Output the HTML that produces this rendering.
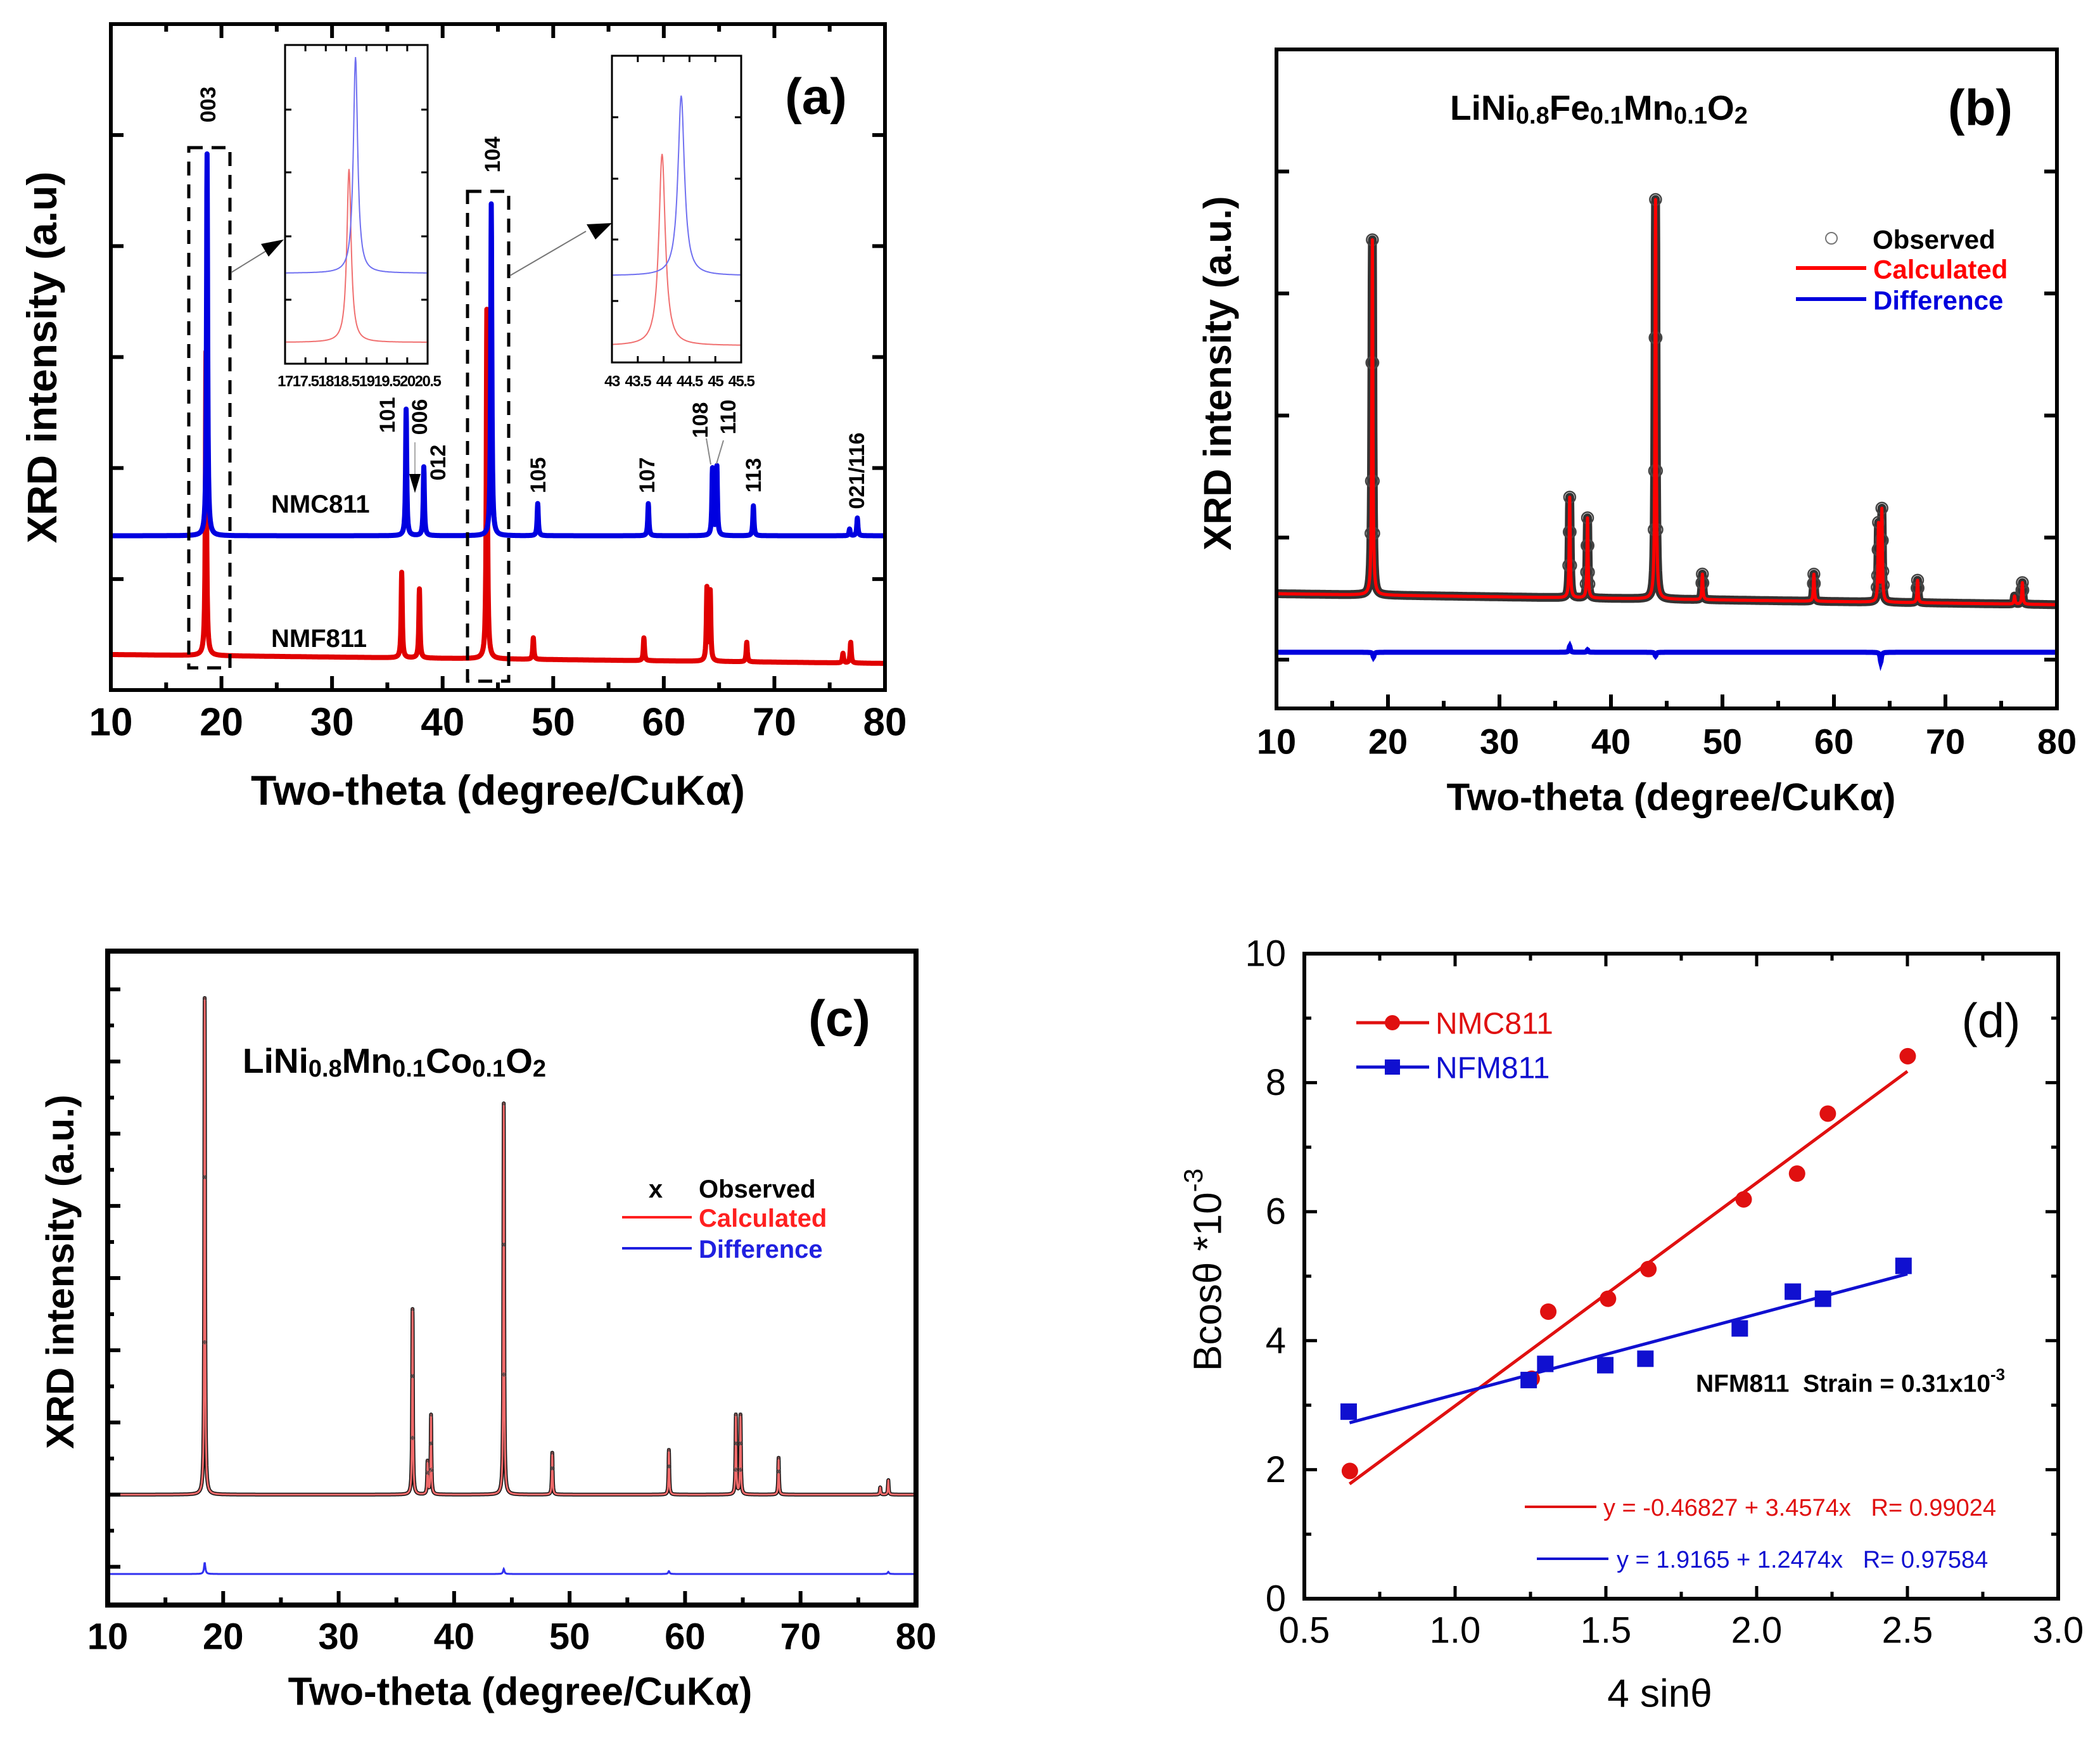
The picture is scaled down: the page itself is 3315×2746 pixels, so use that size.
<!DOCTYPE html>
<html><head><meta charset="utf-8"><style>
html,body{margin:0;padding:0;background:#fff;}
svg{display:block;font-family:"Liberation Sans",Arial,sans-serif;}
</style></head><body>
<svg id="fig" width="3315" height="2746" viewBox="0 0 3315 2746" xmlns="http://www.w3.org/2000/svg">
<rect width="3315" height="2746" fill="#fff"/>
<g id="pa"></g>
<g id="pb"></g>
<g id="pc"></g>
<g id="pd"></g>
</svg>
<script>
// ---------- Panel (a) data ----------
const aBlueBase = [1.39, 1.39];
const aBluePeaks = [18.7,36.7,38.3,44.4,48.6,58.6,64.4,64.8,68.1,76.8,77.5];
const aBlueTops  = [4.83,2.53,2.01,4.38,1.68,1.68,1.99,2.01,1.66,1.45,1.55];
const aRedBase = [0.32, 0.24];
const aRedPeaks = [18.6,36.3,37.9,44.0,48.2,58.2,63.9,64.2,67.5,76.2,76.9];
const aRedTops  = [3.05,1.06,0.91,3.43,0.47,0.47,0.91,0.88,0.43,0.33,0.43];
const xTicks = [10,20,30,40,50,60,70,80];
const in1Blue = {pos:18.73, base:0.284, top:0.962};
const in1Red  = {pos:18.57, base:0.067, top:0.611};
const in2Blue = {pos:44.34, base:0.283, top:0.870};
const in2Red  = {pos:43.97, base:0.055, top:0.680};
const in1Ticks = ["17","17.5","18","18.5","19","19.5","20","20.5"];
const in2Ticks = ["43","43.5","44","44.5","45","45.5"];
// ---------- Panel (b) data ----------
const bBase = [0.54, 0.45];
const bPeaks = [18.6,36.3,37.9,44.0,48.2,58.2,64.0,64.3,67.5,76.2,76.9];
const bTops  = [3.44,1.33,1.16,3.77,0.70,0.70,1.10,1.22,0.65,0.52,0.63];
const bDiffBase = 0.06;
const bDiffPos = [18.7,36.3,37.9,44.0,64.2];
const bDiffDev = [-0.04,0.05,0.02,-0.03,-0.08];
// ---------- Panel (c) data ----------
const cBase = [1.0, 1.0];
const cPeaks = [18.4,36.4,37.7,38.0,44.3,48.5,58.6,64.4,64.8,68.1,76.9,77.6];
const cTops  = [7.88,3.57,1.45,2.10,6.42,1.58,1.62,2.10,2.10,1.51,1.10,1.20];
const cDiffBase = -0.1;
const cDiffPos = [18.4,44.3,58.6,77.6];
const cDiffDev = [0.16,0.07,0.04,0.03];
// ---------- Panel (d) data ----------
const dNmcX = [0.651,1.254,1.309,1.507,1.641,1.957,2.134,2.236,2.501];
const dNmcY = [1.98,3.41,4.45,4.65,5.11,6.19,6.59,7.52,8.41];
const dNfmX = [0.647,1.244,1.299,1.498,1.631,1.944,2.120,2.220,2.487];
const dNfmY = [2.90,3.39,3.64,3.62,3.72,4.19,4.76,4.65,5.16];
const dNmcFit = [-0.46827, 3.4574];
const dNfmFit = [1.9165, 1.2474];
const dFitRange = [0.65, 2.50];
const dXTicks = [0.5,1.0,1.5,2.0,2.5,3.0];
const dYTicks = [0,2,4,6,8,10];

const NS="http://www.w3.org/2000/svg";
function el(parent, tag, attrs, text){
  const e=document.createElementNS(NS,tag);
  for(const k in attrs) e.setAttribute(k,attrs[k]);
  if(text!==undefined) e.textContent=text;
  parent.appendChild(e); return e;
}
function lin(d0,d1,r0,r1){return v=>r0+(v-d0)/(d1-d0)*(r1-r0);}
function profile(x, base, peaks, tops, w){
  const b = base[0] + (base[1]-base[0])*(x-10)/70;
  let y=b;
  for(let i=0;i<peaks.length;i++){
    const h=tops[i]-b; const t=(x-peaks[i])/w;
    y+=h/(1+t*t*4);
  }
  return y;
}
function pathFrom(fn, sx, sy, x0, x1, step){
  let d="";
  for(let x=x0;x<=x1+1e-9;x+=step){ d+=(d?"L":"M")+sx(x).toFixed(1)+" "+sy(fn(x)).toFixed(1); }
  return d;
}
function frame(g, L,T,R,B, sw){
  const r=el(g,"rect",{x:L,y:T,width:R-L,height:B-T,fill:"none",stroke:"#000","stroke-width":sw});
  
  
}
function xAxisTicks(g, sx, ticks, minorStep, B, T, fs, bold, labelY, top){
  ticks.forEach((v,i)=>{
    el(g,"line",{x1:sx(v),x2:sx(v),y1:B,y2:B-22,stroke:"#000","stroke-width":6});
    if(top) el(g,"line",{x1:sx(v),x2:sx(v),y1:T,y2:T+22,stroke:"#000","stroke-width":6});
    const t=el(g,"text",{x:sx(v),y:labelY,"font-size":fs,"font-weight":bold?"bold":"normal","text-anchor":"middle","dominant-baseline":"central"},String(v));
    
    
    if(i<ticks.length-1){
      const m=v+minorStep;
      el(g,"line",{x1:sx(m),x2:sx(m),y1:B,y2:B-12,stroke:"#000","stroke-width":6});
      if(top) el(g,"line",{x1:sx(m),x2:sx(m),y1:T,y2:T+12,stroke:"#000","stroke-width":6});
    }
  });
}
function yTicks(g, sy, vals, L, R, len, right){
  vals.forEach(v=>{
    el(g,"line",{x1:L,x2:L+len,y1:sy(v),y2:sy(v),stroke:"#000","stroke-width":6});
    if(right) el(g,"line",{x1:R,x2:R-len,y1:sy(v),y2:sy(v),stroke:"#000","stroke-width":6});
  });
}
function txt(g,name,x,y,s,attrs){
  const a=Object.assign({x:x,y:y,"dominant-baseline":"central"},attrs);
  const t=el(g,"text",a,s);
  
  
  return t;
}

// =============== PANEL A ===============
(function(){
  const g=document.getElementById("pa");
  const L=175,R=1397,T=38,B=1089;
  const sx=lin(10,80,L,R), sy=lin(0,6,B,T);
  const red=el(g,"path",{d:pathFrom(x=>profile(x,aRedBase,aRedPeaks,aRedTops,0.12),sx,sy,10,80,0.02),fill:"none",stroke:"#e00000","stroke-width":8,"stroke-linejoin":"round"});
  
  
  const blue=el(g,"path",{d:pathFrom(x=>profile(x,aBlueBase,aBluePeaks,aBlueTops,0.12),sx,sy,10,80,0.02),fill:"none",stroke:"#0000e0","stroke-width":8,"stroke-linejoin":"round"});
  
  
  const b1=el(g,"rect",{x:298,y:233,width:65,height:821,fill:"none",stroke:"#000","stroke-width":5,"stroke-dasharray":"22 14"});
  
  
  const b2=el(g,"rect",{x:738,y:302,width:65,height:773,fill:"none",stroke:"#000","stroke-width":5,"stroke-dasharray":"22 14"});
  
  
  el(g,"line",{x1:365,x2:425,y1:430,y2:393,stroke:"#777","stroke-width":2});
  el(g,"polygon",{points:"448,378 412,385 424,405",fill:"#000"});
  el(g,"line",{x1:805,x2:925,y1:435,y2:365,stroke:"#777","stroke-width":2});
  el(g,"polygon",{points:"966,352 926,354 940,378",fill:"#000"});
  function inset(L2,R2,T2,B2,x0,x1,labels,bl,rd,w,sideT,name){
    const gi=el(g,"g",{});
    
    
    el(gi,"rect",{x:L2,y:T2,width:R2-L2,height:B2-T2,fill:"#fff",stroke:"#000","stroke-width":3});
    const ix=lin(x0,x1,L2,R2), iy=lin(0,1,B2,T2);
    labels.forEach((s,i)=>{
      const v=parseFloat(s); const X=ix(v);
      if(i>0&&i<labels.length-1){
        el(gi,"line",{x1:X,x2:X,y1:B2,y2:B2-10,stroke:"#000","stroke-width":3});
        el(gi,"line",{x1:X,x2:X,y1:T2,y2:T2+10,stroke:"#000","stroke-width":3});
      }
      txt(gi,"inset-tick-label",X,602,s,{"font-size":24,"font-weight":"bold","text-anchor":"middle","letter-spacing":"-1.5"});
    });
    sideT.forEach(y=>{
      el(gi,"line",{x1:L2,x2:L2+10,y1:y,y2:y,stroke:"#000","stroke-width":3});
      el(gi,"line",{x1:R2,x2:R2-10,y1:y,y2:y,stroke:"#000","stroke-width":3});
    });
    [[rd,"#f07070"],[bl,"#7070f0"]].forEach(([p,c])=>{
      const fn=x=>{const t=(x-p.pos)/w;return p.base+(p.top-p.base)/(1+t*t*3);};
      el(gi,"path",{d:pathFrom(fn,ix,iy,x0+0.02,x1-0.02,0.01),fill:"none",stroke:c,"stroke-width":2});
    });
  }
  inset(450,675,71,574,17,20.5,in1Ticks,in1Blue,in1Red,0.11,[173,272,373,473],"inset-003");
  inset(966,1170,88,572,43,45.5,in2Ticks,in2Blue,in2Red,0.13,[185,282,378,475],"inset-104");
  frame(g,L,T,R,B,6);
  xAxisTicks(g,sx,xTicks,5,B,T,62,true,1140,true);
  yTicks(g,sy,[1,2,3,4,5],L,R,20,true);
  const labs=[["003",329,165],["104",778,244],["101",612,655],["006",663,658],["012",692,730],["105",850,750],["107",1022,750],["108",1106,663],["110",1150,658],["113",1190,750],["021/116",1353,743]];
  labs.forEach(l=>txt(g,"peak-label-"+l[0],l[1],l[2],l[0],{"font-size":34,"font-weight":"bold","text-anchor":"middle",transform:"rotate(-90 "+l[1]+" "+l[2]+")"}));
  el(g,"line",{x1:1115,y1:692,x2:1122,y2:733,stroke:"#888","stroke-width":2});
  el(g,"line",{x1:1142,y1:695,x2:1131,y2:732,stroke:"#888","stroke-width":2});
  el(g,"line",{x1:655,y1:698,x2:655,y2:760,stroke:"#aaa","stroke-width":2});
  el(g,"polygon",{points:"646,748 664,748 655,778",fill:"#000"});
  txt(g,"nmc811-label",428,796,"NMC811",{"font-size":40,"font-weight":"bold"});
  txt(g,"nmf811-label",428,1008,"NMF811",{"font-size":40,"font-weight":"bold"});
  txt(g,"panel-label-a",1288,152,"(a)",{"font-size":80,"font-weight":"bold","text-anchor":"middle"});
  txt(g,"x-axis-title",786,1247,"Two-theta (degree/CuKα)",{"font-size":66,"font-weight":"bold","text-anchor":"middle"});
  txt(g,"y-axis-title",66,564,"XRD intensity (a.u)",{"font-size":66,"font-weight":"bold","text-anchor":"middle",transform:"rotate(-90 66 564)"});
})();

// =============== PANEL B ===============
(function(){
  const g=document.getElementById("pb");
  const L=2015,R=3247,T=78,B=1118;
  const sx=lin(10,80,L,R), sy=lin(-0.4,5.0,B,T);
  const calc=x=>profile(x,bBase,bPeaks,bTops,0.11);
  const obs=el(g,"path",{d:pathFrom(calc,sx,sy,10,80,0.02),fill:"none",stroke:"#333","stroke-width":14,"stroke-linejoin":"round"});
  
  
  for(let i=0;i<bPeaks.length;i++){
    const p=bPeaks[i];
    for(let k=-3;k<=3;k++){
      const x=p+k*0.04; const y=calc(x);
      if(y-calc(p+1.5)>0.08){
        const c=el(g,"circle",{cx:sx(x),cy:sy(y),r:9,fill:"none",stroke:"#444","stroke-width":2.5});
        
        
      }
    }
  }
  const cl=el(g,"path",{d:pathFrom(calc,sx,sy,10,80,0.02),fill:"none",stroke:"#ff0000","stroke-width":5,"stroke-linejoin":"round"});
  
  
  const diff=x=>{let y=bDiffBase;for(let i=0;i<bDiffPos.length;i++){const t=(x-bDiffPos[i])/0.12;y+=bDiffDev[i]/(1+t*t*3);}return y;};
  const dl=el(g,"path",{d:pathFrom(diff,sx,sy,10,80,0.02),fill:"none",stroke:"#0000dd","stroke-width":8});
  
  
  frame(g,L,T,R,B,6);
  xAxisTicks(g,sx,xTicks,5,B,T,56,true,1170,false);
  yTicks(g,sy,[0,1,2,3,4],L,R,20,true);
  const f=txt(g,"formula-b",2289,170,"",{"font-size":55,"font-weight":"bold"});
  f.innerHTML='LiNi<tspan font-size="38" dy="13">0.8</tspan><tspan dy="-13">Fe</tspan><tspan font-size="38" dy="13">0.1</tspan><tspan dy="-13">Mn</tspan><tspan font-size="38" dy="13">0.1</tspan><tspan dy="-13">O</tspan><tspan font-size="38" dy="13">2</tspan>';
  txt(g,"panel-label-b",3126,170,"(b)",{"font-size":80,"font-weight":"bold","text-anchor":"middle"});
  el(g,"circle",{cx:2891,cy:376,r:9,fill:"none",stroke:"#777","stroke-width":2});
  txt(g,"legend-observed",2956,378,"Observed",{"font-size":42,"font-weight":"bold"});
  el(g,"line",{x1:2835,x2:2946,y1:423,y2:423,stroke:"#ff0000","stroke-width":6});
  txt(g,"legend-calculated",2957,425,"Calculated",{"font-size":42,"font-weight":"bold",fill:"#ff0000"});
  el(g,"line",{x1:2835,x2:2946,y1:472,y2:472,stroke:"#0000dd","stroke-width":6});
  txt(g,"legend-difference",2957,474,"Difference",{"font-size":42,"font-weight":"bold",fill:"#0000dd"});
  txt(g,"x-axis-title",2638,1258,"Two-theta (degree/CuKα)",{"font-size":60,"font-weight":"bold","text-anchor":"middle"});
  txt(g,"y-axis-title",1922,589,"XRD intensity (a.u.)",{"font-size":61,"font-weight":"bold","text-anchor":"middle",transform:"rotate(-90 1922 589)"});
})();

// =============== PANEL C ===============
(function(){
  const g=document.getElementById("pc");
  const L=170,R=1446,T=1501,B=2533;
  const sx=lin(10,80,L,R), sy=lin(-0.53,8.53,B,T);
  const calc=x=>profile(x,cBase,cPeaks,cTops,0.08);
  const obs=el(g,"path",{d:pathFrom(calc,sx,sy,10,80,0.01),fill:"none",stroke:"#111","stroke-width":6,"stroke-linejoin":"round"});
  
  
  const cl=el(g,"path",{d:pathFrom(calc,sx,sy,10,80,0.01),fill:"none",stroke:"#f06a6a","stroke-width":3,"stroke-linejoin":"round"});
  
  
  for(let i=0;i<cPeaks.length;i++){
    const p=cPeaks[i];
    for(let k=-2;k<=2;k++){
      const x=p+k*0.03; const y=calc(x);
      if(y-1.0>0.3){
        txt(g,"observed-point",sx(x),sy(y),"x",{"font-size":12,fill:"#444","text-anchor":"middle"});
      }
    }
  }
  const diff=x=>{let y=cDiffBase;for(let i=0;i<cDiffPos.length;i++){const t=(x-cDiffPos[i])/0.12;y+=cDiffDev[i]/(1+t*t*3);}return y;};
  const dl=el(g,"path",{d:pathFrom(diff,sx,sy,10,80,0.02),fill:"none",stroke:"#3030f0","stroke-width":3});
  
  
  frame(g,L,T,R,B,8);
  xAxisTicks(g,sx,xTicks,5,B,T,58,true,2583,false);
  const yt=[]; for(let v=0;v<=8;v+=0.5) yt.push(v);
  yt.forEach(v=>el(g,"line",{x1:L,x2:L+(v%1===0?20:10),y1:sy(v),y2:sy(v),stroke:"#000","stroke-width":6}));
  const f=txt(g,"formula-c",383,1674,"",{"font-size":55,"font-weight":"bold"});
  f.innerHTML='LiNi<tspan font-size="38" dy="13">0.8</tspan><tspan dy="-13">Mn</tspan><tspan font-size="38" dy="13">0.1</tspan><tspan dy="-13">Co</tspan><tspan font-size="38" dy="13">0.1</tspan><tspan dy="-13">O</tspan><tspan font-size="38" dy="13">2</tspan>';
  txt(g,"panel-label-c",1325,1607,"(c)",{"font-size":80,"font-weight":"bold","text-anchor":"middle"});
  txt(g,"legend-observed-marker",1035,1877,"x",{"font-size":40,"font-weight":"bold","text-anchor":"middle"});
  txt(g,"legend-observed",1103,1877,"Observed",{"font-size":40,"font-weight":"bold"});
  el(g,"line",{x1:982,x2:1092,y1:1921,y2:1921,stroke:"#ff2020","stroke-width":4});
  txt(g,"legend-calculated",1103,1923,"Calculated",{"font-size":40,"font-weight":"bold",fill:"#ff2020"});
  el(g,"line",{x1:982,x2:1092,y1:1970,y2:1970,stroke:"#2020e0","stroke-width":4});
  txt(g,"legend-difference",1103,1972,"Difference",{"font-size":40,"font-weight":"bold",fill:"#2020e0"});
  txt(g,"x-axis-title",821,2670,"Two-theta (degree/CuKα)",{"font-size":62,"font-weight":"bold","text-anchor":"middle"});
  txt(g,"y-axis-title",95,2007,"XRD intensity (a.u.)",{"font-size":61,"font-weight":"bold","text-anchor":"middle",transform:"rotate(-90 95 2007)"});
})();

// =============== PANEL D ===============
(function(){
  const g=document.getElementById("pd");
  const L=2059,R=3249,T=1505,B=2523;
  const sx=lin(0.5,3.0,L,R), sy=lin(0,10,B,T);
  frame(g,L,T,R,B,6);
  dXTicks.forEach((v,i)=>{
    el(g,"line",{x1:sx(v),x2:sx(v),y1:B,y2:B-20,stroke:"#000","stroke-width":5});
    el(g,"line",{x1:sx(v),x2:sx(v),y1:T,y2:T+20,stroke:"#000","stroke-width":5});
    if(i<dXTicks.length-1){const m=v+0.25;
      el(g,"line",{x1:sx(m),x2:sx(m),y1:B,y2:B-11,stroke:"#000","stroke-width":5});
      el(g,"line",{x1:sx(m),x2:sx(m),y1:T,y2:T+11,stroke:"#000","stroke-width":5});}
    txt(g,"x-tick-label",sx(v),2573,v.toFixed(1),{"font-size":58,"text-anchor":"middle"});
  });
  dYTicks.forEach((v,i)=>{
    el(g,"line",{x1:L,x2:L+20,y1:sy(v),y2:sy(v),stroke:"#000","stroke-width":5});
    el(g,"line",{x1:R,x2:R-20,y1:sy(v),y2:sy(v),stroke:"#000","stroke-width":5});
    if(i<dYTicks.length-1){const m=v+1;
      el(g,"line",{x1:L,x2:L+11,y1:sy(m),y2:sy(m),stroke:"#000","stroke-width":5});
      el(g,"line",{x1:R,x2:R-11,y1:sy(m),y2:sy(m),stroke:"#000","stroke-width":5});}
    txt(g,"y-tick-label",2030,sy(v),String(v),{"font-size":58,"text-anchor":"end"});
  });
  const fit=(c,col,n)=>{const l=el(g,"line",{x1:sx(dFitRange[0]),y1:sy(c[0]+c[1]*dFitRange[0]),x2:sx(dFitRange[1]),y2:sy(c[0]+c[1]*dFitRange[1]),stroke:col,"stroke-width":5});
    
    };
  fit(dNmcFit,"#e01010","nmc811-fit-line");
  fit(dNfmFit,"#1010d0","nfm811-fit-line");
  dNmcX.forEach((x,i)=>{const c=el(g,"circle",{cx:sx(x),cy:sy(dNmcY[i]),r:13,fill:"#e01010"});
    
    });
  dNfmX.forEach((x,i)=>{const r=el(g,"rect",{x:sx(x)-13,y:sy(dNfmY[i])-13,width:26,height:26,fill:"#1010d0"});
    
    });
  el(g,"line",{x1:2141,x2:2256,y1:1614,y2:1614,stroke:"#e01010","stroke-width":5});
  el(g,"circle",{cx:2198,cy:1614,r:12,fill:"#e01010"});
  txt(g,"legend-nmc811",2266,1616,"NMC811",{"font-size":48,fill:"#e01010"});
  el(g,"line",{x1:2141,x2:2256,y1:1684,y2:1684,stroke:"#1010d0","stroke-width":5});
  el(g,"rect",{x:2186,y:1672,width:24,height:24,fill:"#1010d0"});
  txt(g,"legend-nfm811",2266,1686,"NFM811",{"font-size":48,fill:"#1010d0"});
  txt(g,"panel-label-d",3143,1611,"(d)",{"font-size":76,"text-anchor":"middle"});
  const s=txt(g,"strain-annotation",2677,2184,"",{"font-size":39,"font-weight":"bold"});
  s.innerHTML='NFM811&#160;&#160;Strain = 0.31x10<tspan font-size="26" dy="-15">-3</tspan>';
  el(g,"line",{x1:2407,x2:2520,y1:2378,y2:2378,stroke:"#e01010","stroke-width":4});
  const e1=txt(g,"nmc811-fit-equation",2531,2380,"",{"font-size":38,fill:"#e01010"});
  e1.innerHTML='y = -0.46827 + 3.4574x&#160;&#160;&#160;R= 0.99024';
  el(g,"line",{x1:2426,x2:2539,y1:2460,y2:2460,stroke:"#1010d0","stroke-width":4});
  const e2=txt(g,"nfm811-fit-equation",2552,2462,"",{"font-size":38,fill:"#1010d0"});
  e2.innerHTML='y = 1.9165 + 1.2474x&#160;&#160;&#160;R= 0.97584';
  txt(g,"x-axis-title",2620,2673,"4 sinθ",{"font-size":62,"text-anchor":"middle"});
  const yt=txt(g,"y-axis-title",1907,2004,"",{"font-size":62,"text-anchor":"middle",transform:"rotate(-90 1907 2004)"});
  yt.innerHTML='Bcosθ *10<tspan font-size="42" dy="-24">-3</tspan>';
})();
</script>
</body></html>
